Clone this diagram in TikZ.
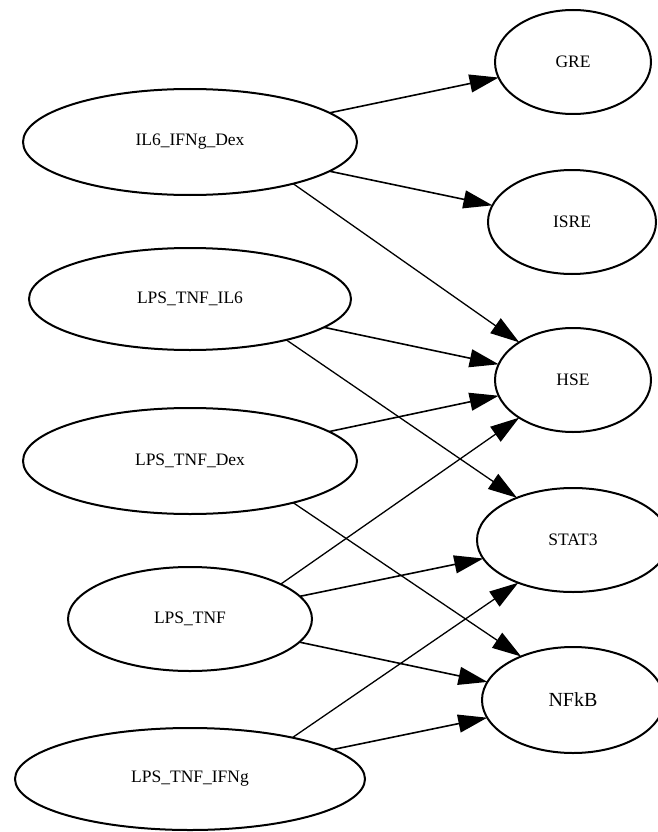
\documentclass[tikz,border=0pt]{standalone}
\usepackage{fontspec}
\setmainfont{Liberation Serif}
\usetikzlibrary{positioning, shapes.geometric, arrows.meta}

\begin{document}
\begin{tikzpicture}[x=1pt, y=-1pt,
    >={Triangle[length=29pt, width=18pt]},
    state/.style={draw, ellipse, line width=2pt, inner sep=0pt, outer sep=0pt,
                  font=\fontsize{17.5}{21}\selectfont},
    link/.style={every edge/.append style={->, line width=1.6pt}},
    longlink/.style={every edge/.append style={->, line width=1.3pt}}]
    \useasboundingbox (0,0) rectangle (657,832);

    % left column
    \node[state, minimum width=334pt, minimum height=106pt] at (190,142) (IL6IFNgDex) {IL6\_IFNg\_Dex};
    \node[state, minimum width=322pt, minimum height=102pt] at (190,299) (LPSTNFIL6)  {LPS\_TNF\_IL6};
    \node[state, minimum width=334pt, minimum height=106pt] at (190,461) (LPSTNFDex)  {LPS\_TNF\_Dex};
    \node[state, minimum width=244pt, minimum height=104pt] at (190,619) (LPSTNF)     {LPS\_TNF};
    \node[state, minimum width=350pt, minimum height=102pt] at (190,779) (LPSTNFIFNg) {LPS\_TNF\_IFNg};

    % right column
    \node[state, minimum width=156pt, minimum height=104pt] at (573,62)  (GRE)   {GRE};
    \node[state, minimum width=168pt, minimum height=104pt] at (572,222) (ISRE)  {ISRE};
    \node[state, minimum width=156pt, minimum height=104pt] at (573,380) (HSE)   {HSE};
    \node[state, minimum width=192pt, minimum height=104pt] at (573,540) (STAT3) {STAT3};
    \node[state, minimum width=182pt, minimum height=106pt, font=\fontsize{20}{24}\selectfont] at (573,700) (NFkB) {NFkB};

    \path[link]
        (IL6IFNgDex) edge (GRE)
        (IL6IFNgDex) edge (ISRE)
        (LPSTNFIL6)  edge (HSE)
        (LPSTNFDex)  edge (HSE)
        (LPSTNF)     edge (STAT3)
        (LPSTNF)     edge (NFkB)
        (LPSTNFIFNg) edge (NFkB);

    % long crossing edges
    \path[longlink]
        (IL6IFNgDex.-22) edge (HSE.145)
        (LPSTNFIL6.-23)  edge (STAT3.143)
        (LPSTNFDex.-22)  edge (NFkB.140)
        (LPSTNF.21)      edge (HSE.215)
        (LPSTNFIFNg.22)  edge (STAT3.218);
\end{tikzpicture}
\end{document}
